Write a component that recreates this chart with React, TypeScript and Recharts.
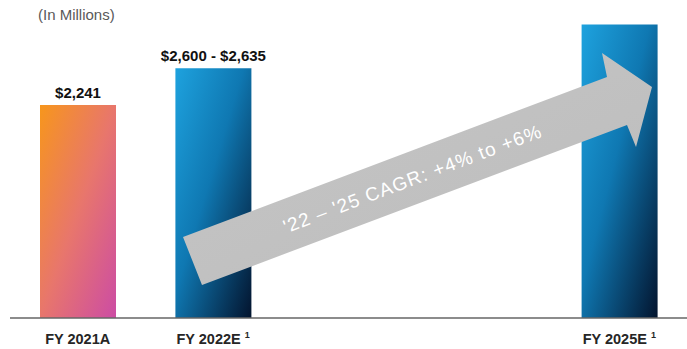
import { BarChart, Bar, XAxis, YAxis, Cell, LabelList } from 'recharts'

const categories = ['FY 2021A', 'FY 2022E', 'FY 2023E', 'FY 2024E', 'FY 2025E']
const revenue = [2241, 2630, null, null, 3090]
const valueLabels = ['$2,241', '$2,600 - $2,635', '', '', '']
const tickLabels = ['FY 2021A', 'FY 2022E', '', '', 'FY 2025E']
const footnotes = ['', '1', '', '', '1']
const barFills = ['url(#orangePink)', 'url(#blueNavy)', 'none', 'none', 'url(#blueNavy)']
const cagrText = "'22 \u2013 '25 CAGR: +4% to +6%"

const data = categories.map((category, i) => ({ category, revenue: revenue[i] }))

const font = '"Liberation Sans", Arial, sans-serif'

function FiscalTick({ x, y, payload }: any) {
  const i = categories.indexOf(payload.value)
  const label = tickLabels[i]
  if (!label) return <g />
  return (
    <text x={x} y={y + 18} textAnchor="middle" fontFamily={font} fontWeight={700} fontSize={14.5} fill="#262626">
      {label}
      {footnotes[i] && (
        <tspan dx={4} dy={-6} fontSize={9}>
          {footnotes[i]}
        </tspan>
      )}
    </text>
  )
}

function ValueLabel({ x, y, width, index }: any) {
  const text = valueLabels[index]
  if (!text) return null
  return (
    <text x={x + width / 2} y={y - 7} textAnchor="middle" fontFamily={font} fontWeight={700} fontSize={15} fill="#111">
      {text}
    </text>
  )
}

// growth arrow, laid over the chart so it sits on top of the 2022 and 2025 bars
function CagrArrow() {
  const pts = '183,237 607,77 602,53 652,87 636,147 627,125 202,285'
  return (
    <svg width={687} height={349} style={{ position: 'absolute', left: 0, top: 0, pointerEvents: 'none' }}>
      <defs>
        <linearGradient id="arrowGray" x1="0" y1="0" x2="1" y2="1">
          <stop offset="0%" stopColor="#c6c6c6" />
          <stop offset="100%" stopColor="#bcbcbc" />
        </linearGradient>
      </defs>
      <polygon points={pts} fill="url(#arrowGray)" />
      <text
        x={412}
        y={179}
        textAnchor="middle"
        dominantBaseline="central"
        transform="rotate(-20.7 412 179)"
        fontFamily={font}
        fontSize={19}
        fill="#fff"
        textLength={274}
        lengthAdjust="spacing"
      >
        {cagrText}
      </text>
    </svg>
  )
}

export default function App() {
  return (
    <div style={{ position: 'absolute', left: 0, top: 0, width: 687, height: 349, background: '#fff' }}>
      <BarChart width={687} height={349} data={data} margin={{ top: 14, right: 0, bottom: 1, left: 10 }}>
        <defs>
          <linearGradient id="orangePink" x1="0" y1="0" x2="1" y2="1">
            <stop offset="0%" stopColor="#f7961c" />
            <stop offset="50%" stopColor="#e8766c" />
            <stop offset="100%" stopColor="#cc4ca4" />
          </linearGradient>
          <linearGradient id="blueNavy" x1="0" y1="0" x2="1" y2="1">
            <stop offset="0%" stopColor="#1ea2de" />
            <stop offset="45%" stopColor="#0f78b2" />
            <stop offset="100%" stopColor="#03142e" />
          </linearGradient>
        </defs>
        <text x={38} y={20} fontFamily={font} fontSize={15} fill="#595959">
          (In Millions)
        </text>
        <XAxis
          dataKey="category"
          interval={0}
          tickLine={false}
          axisLine={{ stroke: '#666', strokeWidth: 1.5 }}
          tick={<FiscalTick />}
          height={30}
        />
        <YAxis hide domain={[0, 3200]} />
        <Bar dataKey="revenue" barSize={76} isAnimationActive={false}>
          {data.map((d, i) => (
            <Cell key={d.category} fill={barFills[i]} />
          ))}
          <LabelList dataKey="revenue" content={<ValueLabel />} />
        </Bar>
      </BarChart>
      <CagrArrow />
    </div>
  )
}
